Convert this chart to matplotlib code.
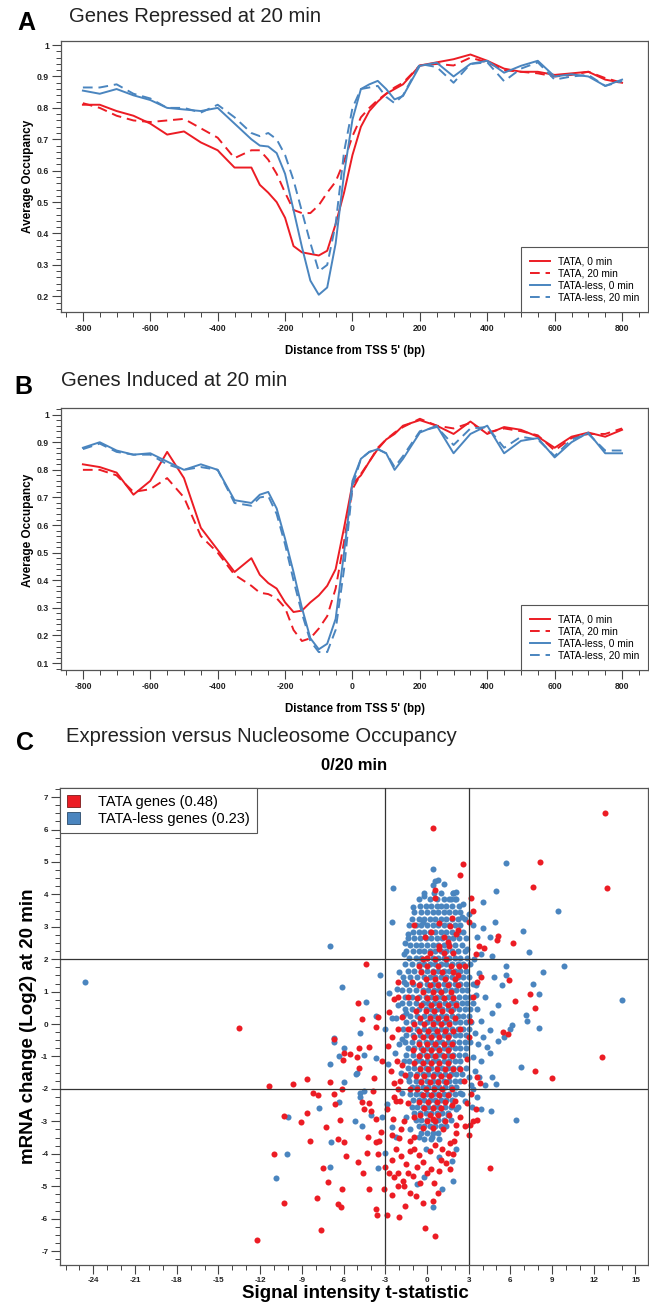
import numpy as np
import matplotlib
matplotlib.use("Agg")
import matplotlib.pyplot as plt
from matplotlib.patches import Patch
from matplotlib.ticker import MultipleLocator, FuncFormatter

plt.rcParams['font.family'] = ['Liberation Sans', 'DejaVu Sans']
plt.rcParams['axes.unicode_minus'] = False

RED = '#EC1C24'
BLUE = '#4A85BF'

# ---- panels A / B : average occupancy around the TSS ----
dist = [-800, -750, -700, -650, -600, -550, -500, -450, -400, -350, -300, -275, -250, -225,
        -200, -175, -150, -125, -100, -75, -50, -25, 0, 25, 50, 75, 100, 125, 150,
        200, 250, 300, 350, 400, 450, 500, 550, 600, 650, 700, 750, 800]

rep_tata_0 = [0.81, 0.81, 0.79, 0.775, 0.75, 0.715, 0.725, 0.69, 0.665, 0.61, 0.61, 0.555, 0.53, 0.50,
              0.45, 0.36, 0.34, 0.335, 0.33, 0.345, 0.43, 0.53, 0.65, 0.74, 0.79, 0.82, 0.845, 0.86, 0.875,
              0.935, 0.945, 0.955, 0.97, 0.95, 0.925, 0.915, 0.915, 0.905, 0.91, 0.915, 0.89, 0.88]
rep_tata_20 = [0.815, 0.80, 0.775, 0.76, 0.755, 0.76, 0.765, 0.735, 0.705, 0.64, 0.665, 0.665, 0.635, 0.59,
               0.53, 0.475, 0.465, 0.465, 0.49, 0.53, 0.565, 0.63, 0.71, 0.77, 0.80, 0.825, 0.845, 0.865, 0.88,
               0.935, 0.94, 0.935, 0.96, 0.945, 0.92, 0.915, 0.91, 0.90, 0.905, 0.915, 0.895, 0.88]
rep_less_0 = [0.855, 0.845, 0.86, 0.84, 0.825, 0.80, 0.795, 0.79, 0.80, 0.75, 0.70, 0.68, 0.677, 0.656,
              0.59, 0.475, 0.357, 0.25, 0.205, 0.228, 0.368, 0.59, 0.763, 0.86, 0.875, 0.886, 0.86, 0.827, 0.838,
              0.934, 0.944, 0.90, 0.94, 0.95, 0.912, 0.934, 0.95, 0.90, 0.907, 0.90, 0.87, 0.89]
rep_less_20 = [0.865, 0.865, 0.875, 0.845, 0.83, 0.80, 0.80, 0.785, 0.81, 0.77, 0.72, 0.71, 0.72, 0.70,
               0.65, 0.57, 0.47, 0.37, 0.28, 0.30, 0.43, 0.66, 0.80, 0.86, 0.865, 0.87, 0.835, 0.815, 0.84,
               0.94, 0.93, 0.88, 0.94, 0.945, 0.885, 0.925, 0.945, 0.89, 0.90, 0.905, 0.87, 0.885]

ind_tata_0 = [0.82, 0.81, 0.79, 0.71, 0.76, 0.865, 0.77, 0.59, 0.51, 0.43, 0.48, 0.42, 0.39, 0.37,
              0.32, 0.285, 0.29, 0.32, 0.345, 0.38, 0.44, 0.59, 0.75, 0.78, 0.83, 0.875, 0.91, 0.93, 0.96,
              0.98, 0.96, 0.93, 0.975, 0.93, 0.955, 0.945, 0.92, 0.88, 0.92, 0.935, 0.92, 0.945]
ind_tata_20 = [0.80, 0.80, 0.78, 0.72, 0.73, 0.77, 0.70, 0.56, 0.50, 0.42, 0.38, 0.355, 0.35, 0.335,
               0.30, 0.22, 0.18, 0.19, 0.225, 0.27, 0.37, 0.54, 0.73, 0.785, 0.83, 0.88, 0.91, 0.935, 0.955,
               0.985, 0.96, 0.95, 0.97, 0.935, 0.95, 0.94, 0.925, 0.87, 0.915, 0.93, 0.93, 0.95]
ind_less_0 = [0.88, 0.90, 0.87, 0.855, 0.86, 0.83, 0.80, 0.82, 0.80, 0.69, 0.68, 0.71, 0.72, 0.66,
              0.55, 0.43, 0.30, 0.19, 0.15, 0.17, 0.26, 0.50, 0.76, 0.84, 0.865, 0.875, 0.86, 0.80, 0.84,
              0.935, 0.96, 0.86, 0.93, 0.96, 0.86, 0.905, 0.915, 0.845, 0.90, 0.935, 0.86, 0.86]
ind_less_20 = [0.875, 0.895, 0.865, 0.855, 0.855, 0.82, 0.80, 0.81, 0.80, 0.68, 0.67, 0.70, 0.705, 0.64,
               0.53, 0.40, 0.28, 0.18, 0.14, 0.14, 0.22, 0.44, 0.74, 0.84, 0.865, 0.875, 0.86, 0.81, 0.85,
               0.94, 0.955, 0.89, 0.95, 0.955, 0.88, 0.92, 0.91, 0.85, 0.91, 0.93, 0.87, 0.87]

profile_labels = ['TATA, 0 min', 'TATA, 20 min', 'TATA-less, 0 min', 'TATA-less, 20 min']

# ---- panel C : expression vs occupancy scatter ----
tata_pts = [
    (12.8, 6.5), (0.4, 6.04), (8.16, 5.0), (2.6, 4.94), (2.35, 4.6), (7.65, 4.22), (12.97, 4.2),
    (0.6, 4.14), (3.2, 3.9), (0.55, 3.9), (-0.9, 3.07), (3.3, 3.5), (3.0, 3.15), (5.1, 2.72),
    (5.05, 2.58), (6.2, 2.5), (4.1, 2.34), (-4.4, 1.84), (5.9, 1.37), (6.3, 0.72), (7.4, 0.92),
    (7.75, 0.5), (5.5, -0.23), (5.85, -0.32), (-13.5, -0.13), (-4.95, 0.64), (-4.7, 0.15),
    (12.6, -1.02), (7.8, -1.45), (9.0, -1.65), (4.55, -4.44),
    (-11.4, -1.9), (-9.65, -1.85), (-8.6, -1.7), (-8.2, -2.14), (-7.85, -2.2), (-7.0, -1.8),
    (-8.6, -2.73), (-9.05, -3.02), (-10.3, -2.83), (-6.7, -2.15), (-6.1, -2.0), (-6.65, -2.45),
    (-6.25, -2.95), (-7.25, -3.17), (-8.4, -3.62), (-11.0, -4.0), (-6.4, -3.55), (-6.0, -3.64),
    (-5.8, -4.06), (-7.45, -4.43), (-7.15, -4.86), (-6.1, -5.1), (-7.9, -5.36), (-10.3, -5.52),
    (-6.4, -5.55), (-6.2, -5.65), (-7.6, -6.34), (-12.2, -6.65),
    (-4.95, -4.25), (-4.6, -4.58), (-4.2, -5.1), (-3.7, -5.7), (-3.6, -5.9), (-2.9, -5.9),
    (-2.0, -5.94), (-2.5, -5.26), (-1.2, -5.2), (-0.15, -6.28), (0.6, -6.55), (-0.3, -5.53),
    (0.45, -5.45), (-4.35, -3.97), (-3.55, -4.0), (-3.7, -3.64), (-4.25, -3.47), (-3.45, -3.6),
    (-4.65, -2.41), (-4.2, -2.42), (-4.5, -2.62), (-4.0, -2.68), (-3.65, -2.93), (-3.3, -3.32),
    (-3.9, -2.07), (-3.8, -1.65), (-4.9, -0.74), (-5.05, -1.02), (-5.55, -0.92), (-6.05, -1.1),
    (-6.0, -0.9), (-4.9, -1.37), (-6.7, -0.47), (-4.2, -0.7), (-3.7, -0.1), (-3.5, 0.23),
    (-2.4, 0.78), (-2.05, 0.82), (-2.75, 0.38), (-2.8, -0.67), (-3.25, -1.15), (-2.6, -1.45),
    (-2.4, -1.82), (-1.95, -1.76), (-2.25, -2.37), (-2.85, -2.62), (-2.45, -2.93), (-1.85, -3.23),
    (-2.55, -3.42), (-2.25, -3.85), (-1.85, -4.07), (-3.0, -4.4), (-2.7, -4.58), (-2.35, -4.73),
    (-2.05, -4.6), (-1.75, -4.83), (-1.35, -4.58), (-1.65, -5.0), (-2.1, -5.0), (-0.75, -4.4),
    (0.0, -4.58), (0.3, -4.46), (0.9, -4.52), (1.35, -4.28), (1.65, -4.46), (1.5, -3.97),
    (-0.6, -4.03), (-0.3, -4.25), (-0.9, -3.85), (1.95, -3.6), (3.0, -3.42), (3.1, -3.1),
    (3.3, -2.99), (3.5, -2.62), (2.85, -2.43), (3.15, -2.15), (3.6, -1.64), (3.8, -1.82),
    (2.1, -3.1), (1.15, -3.23), (0.45, -2.93),
    (-1.0, -4.7), (-0.5, -4.9), (0.5, -4.9), (1.0, -4.2), (-1.5, -4.3), (-2.5, -4.2), (-1.2, -3.9),
    (0.2, -3.9), (1.9, -4.0), (-2.0, -3.5), (0.8, -5.2), (-0.8, -5.3), (-3.1, -5.1), (-1.6, -5.6),
    (3.75, 2.42), (3.5, 2.17), (2.7, 1.8), (2.25, 1.5), (3.6, 1.31), (3.9, 1.44), (3.3, 0.82),
    (3.1, 0.09), (3.0, -0.41), (2.4, -0.16), (2.85, -1.08), (2.4, -1.39), (2.65, -1.76),
    (2.0, -2.37), (1.8, -2.5), (2.4, -2.86), (2.7, -3.15), (3.6, -2.96), (2.1, -3.36),
    (1.65, -3.66), (1.05, -3.85), (0.55, -3.72), (-0.9, -3.48), (-1.2, -3.6), (-1.65, -2.99),
    (-0.9, -2.86), (-1.35, -2.43), (-1.95, -2.37), (-2.1, -2.0), (-2.4, -2.25), (-1.2, -2.0),
    (-1.55, -1.58), (-1.8, -1.27), (-2.15, -1.15), (-2.55, -0.41), (-2.1, -0.16), (-1.35, -0.16),
    (-1.8, 0.21), (-1.35, 0.82), (-2.1, 1.31), (-1.05, 1.31), (-0.55, 1.8), (0.0, 2.05),
    (0.9, 2.3), (1.2, 2.67), (1.65, 3.03), (1.8, 3.28), (1.5, 2.54), (2.1, 2.79), (0.3, 2.85),
    (-0.15, 2.67), (0.9, 3.13), (2.25, 2.91),
]

# dense middle of the TATA cloud, row by row: (y, [x ...])
tata_core = [
    (2.4, [0.9, 1.6]), (2.2, [0.2, 1.2, 1.9]), (2.0, [-0.3, 0.6, 1.4]),
    (1.8, [0.0, 0.8, 1.7, 2.3]), (1.6, [-0.4, 0.4, 1.1, 1.9]), (1.4, [-0.1, 0.6, 1.3, 2.0]),
    (1.2, [-0.6, 0.2, 0.8, 1.5, 2.2]), (1.0, [-0.3, 0.4, 1.0, 1.7]),
    (0.8, [-0.7, 0.0, 0.6, 1.2, 1.9]), (0.6, [-0.4, 0.3, 0.9, 1.5, 2.1]),
    (0.4, [-0.8, -0.1, 0.5, 1.1, 1.7]), (0.2, [-0.5, 0.2, 0.8, 1.4, 2.0]),
    (0.0, [-0.9, -0.2, 0.4, 1.0, 1.6]), (-0.2, [-0.6, 0.1, 0.7, 1.3, 1.9]),
    (-0.4, [-0.9, -0.3, 0.3, 0.9, 1.5]), (-0.6, [-0.6, 0.0, 0.6, 1.2, 1.8]),
    (-0.8, [-1.0, -0.3, 0.3, 0.9, 1.5]), (-1.0, [-0.6, 0.0, 0.6, 1.2, 1.8]),
    (-1.2, [-0.9, -0.3, 0.3, 0.9, 1.5]), (-1.4, [-0.5, 0.1, 0.7, 1.3, 1.9]),
    (-1.6, [-0.8, -0.2, 0.4, 1.0, 1.6]), (-1.8, [-0.4, 0.2, 0.8, 1.4]),
    (-2.0, [-0.7, -0.1, 0.5, 1.1, 1.8]), (-2.2, [-0.3, 0.3, 0.9, 1.5]),
    (-2.4, [-0.6, 0.1, 0.7, 1.3]), (-2.6, [-0.2, 0.4, 1.0]),
    (-2.8, [-0.5, 0.2, 0.8, 1.6]), (-3.0, [0.0, 0.6, 1.3]), (-3.2, [-0.3, 0.4]),
]

less_pts = [
    (-24.6, 1.29), (-6.96, 2.41), (-6.1, 1.14), (-2.47, 4.19), (-2.53, 3.15), (-3.4, 1.52),
    (-2.75, 0.97), (-2.15, 1.09), (-4.4, 0.67), (-3.65, 0.26), (-2.5, 0.18), (-3.0, -0.14),
    (-4.8, -0.28), (-6.7, -0.55), (-6.7, -0.42), (-6.0, -0.75), (-6.3, -0.99), (-7.0, -1.22),
    (-5.0, -1.51), (-5.1, -1.55), (-3.7, -1.06), (-4.5, -0.96), (-2.8, -1.24), (-2.3, -0.9),
    (-6.0, -1.8), (-4.8, -2.13), (-4.5, -2.07), (-6.3, -2.4), (-5.15, -2.99), (-4.7, -3.13),
    (-4.05, -2.8), (-4.8, -2.25), (-7.8, -2.6), (-10.0, -2.87), (-6.9, -3.63), (-6.95, -4.41),
    (-10.1, -4.0), (-10.85, -4.76), (-2.9, -2.47), (-3.2, -2.86), (-3.0, -3.97), (-3.5, -4.44),
    (-2.2, -3.48), (-2.5, -3.17), (-0.75, -4.92), (0.45, -5.63), (-0.25, -4.72), (1.05, -5.08),
    (1.85, -4.83), (1.8, -4.22), (0.9, -4.1), (2.1, -3.85), (-0.1, -3.85), (0.35, -3.48),
    (4.65, -1.64), (4.95, -1.85), (4.6, -2.68), (3.9, -2.62), (3.25, -2.56), (6.4, -2.95),
    (6.75, -1.33), (4.35, -0.71), (4.5, -0.9), (5.1, -0.53), (5.55, -0.41), (5.95, -0.16),
    (4.5, -0.19), (6.15, -0.04), (7.2, 0.09), (7.15, 0.29), (8.05, -0.12), (7.65, 1.25),
    (8.05, 0.92), (8.35, 1.62), (9.85, 1.8), (14.0, 0.73), (9.45, 3.49), (5.65, 4.97),
    (5.0, 4.09), (4.05, 3.75), (4.9, 3.15), (4.0, 2.97), (4.55, 2.67), (6.9, 2.88), (7.35, 2.22),
    (5.65, 1.8), (5.7, 1.5), (4.8, 1.44), (5.4, 1.19), (4.65, 2.11), (3.75, 1.56), (3.9, 2.17),
    (3.55, 1.19), (4.2, 0.82), (5.1, 0.58), (4.65, 0.33), (3.6, 0.45), (3.9, 0.09), (3.45, -0.28),
    (4.05, -0.41), (3.3, -1.02), (3.9, -1.15), (3.45, -1.45), (3.0, -1.64), (2.4, -2.13),
    (2.1, -2.62), (2.7, -2.37), (3.6, -2.25), (3.15, -1.88), (4.2, -1.88), (3.75, -1.64),
    (1.5, -2.8), (3.3, 3.06), (3.6, 2.67), (3.0, 3.4), (2.5, 3.3), (2.0, 3.85), (2.1, 4.07),
    (1.2, 4.32), (0.8, 4.44), (-0.3, 3.15), (-1.35, 2.78), (-1.65, 2.17), (-1.65, 1.31),
    (-2.1, 0.58), (-1.5, 0.33), (-1.8, -0.47), (-1.65, -1.15), (-1.35, -1.64), (-1.8, -2.13),
    (-1.5, -2.86), (-1.2, -3.23), (-0.6, -3.48), (0.45, 4.79), (0.6, 4.4), (0.45, 4.3),
    (-0.25, 3.95), (1.9, 4.05), (1.7, 3.85),
    (-2.0, 1.6), (-2.2, 0.2), (-2.0, -0.6), (-1.9, -1.5), (3.5, 0.9), (3.4, 2.0), (3.7, -0.6),
    (3.3, -2.0), (2.9, 2.3), (2.6, 3.7), (-1.6, 2.5), (-1.0, 3.6),
]

# dense middle of the TATA-less cloud, row by row: (y, [x ...])
less_core = [
    (4.05, [-0.2, 0.5, 1.0, 1.9]),
    (3.85, [-0.6, 0.2, 0.7, 1.2, 1.6, 2.1]),
    (3.65, [-0.5, -0.1, 0.3, 0.7, 1.0, 1.4, 1.8, 2.3]),
    (3.45, [-0.9, -0.4, 0.0, 0.4, 0.8, 1.2, 1.6, 2.0, 2.4]),
    (3.25, [-1.1, -0.6, -0.2, 0.2, 0.6, 1.0, 1.4, 1.8, 2.2, 2.7]),
    (3.05, [-1.3, -0.8, -0.4, 0.0, 0.4, 0.8, 1.2, 1.6, 2.0, 2.4]),
    (2.85, [-1.0, -0.6, -0.2, 0.2, 0.6, 1.0, 1.4, 1.8, 2.2, 2.6]),
    (2.65, [-1.4, -0.9, -0.5, -0.1, 0.3, 0.7, 1.1, 1.5, 1.9, 2.3, 2.8]),
    (2.45, [-1.2, -0.8, -0.4, 0.0, 0.4, 0.8, 1.2, 1.6, 2.0, 2.5]),
    (2.25, [-1.5, -1.0, -0.6, -0.2, 0.2, 0.6, 1.0, 1.4, 1.8, 2.2, 2.7]),
    (2.05, [-1.3, -0.8, -0.4, 0.0, 0.4, 0.8, 1.2, 1.6, 2.0, 2.4, 2.9]),
    (1.85, [-1.6, -1.1, -0.6, -0.2, 0.2, 0.6, 1.0, 1.4, 1.8, 2.2, 2.6, 3.1]),
    (1.65, [-1.4, -0.9, -0.4, 0.0, 0.4, 0.8, 1.2, 1.6, 2.0, 2.4, 2.8]),
    (1.45, [-1.7, -1.2, -0.7, -0.2, 0.2, 0.6, 1.0, 1.4, 1.8, 2.2, 2.6, 3.0]),
    (1.25, [-1.5, -1.0, -0.5, 0.0, 0.4, 0.8, 1.2, 1.6, 2.0, 2.4, 2.8, 3.3]),
    (1.05, [-1.8, -1.3, -0.8, -0.3, 0.1, 0.5, 0.9, 1.3, 1.7, 2.1, 2.5, 2.9]),
    (0.85, [-1.6, -1.1, -0.6, -0.1, 0.3, 0.7, 1.1, 1.5, 1.9, 2.3, 2.7, 3.1]),
    (0.65, [-1.8, -1.3, -0.8, -0.3, 0.1, 0.5, 0.9, 1.3, 1.7, 2.1, 2.5, 2.9, 3.3]),
    (0.45, [-1.6, -1.1, -0.6, -0.1, 0.3, 0.7, 1.1, 1.5, 1.9, 2.3, 2.7, 3.1]),
    (0.25, [-1.7, -1.2, -0.7, -0.2, 0.2, 0.6, 1.0, 1.4, 1.8, 2.2, 2.6, 3.0]),
    (0.05, [-1.5, -1.0, -0.5, 0.0, 0.4, 0.8, 1.2, 1.6, 2.0, 2.4, 2.8, 3.2]),
    (-0.15, [-1.7, -1.2, -0.7, -0.2, 0.2, 0.6, 1.0, 1.4, 1.8, 2.2, 2.6, 3.0]),
    (-0.35, [-1.5, -1.0, -0.5, 0.0, 0.4, 0.8, 1.2, 1.6, 2.0, 2.4, 2.8]),
    (-0.55, [-1.6, -1.1, -0.6, -0.1, 0.3, 0.7, 1.1, 1.5, 1.9, 2.3, 2.7, 3.1]),
    (-0.75, [-1.4, -0.9, -0.4, 0.0, 0.4, 0.8, 1.2, 1.6, 2.0, 2.4, 2.8]),
    (-0.95, [-1.5, -1.0, -0.5, -0.1, 0.3, 0.7, 1.1, 1.5, 1.9, 2.3, 2.7]),
    (-1.15, [-1.3, -0.8, -0.4, 0.0, 0.4, 0.8, 1.2, 1.6, 2.0, 2.4]),
    (-1.35, [-1.4, -0.9, -0.5, -0.1, 0.3, 0.7, 1.1, 1.5, 1.9, 2.3, 2.8]),
    (-1.55, [-1.2, -0.7, -0.3, 0.1, 0.5, 0.9, 1.3, 1.7, 2.1, 2.5]),
    (-1.75, [-1.3, -0.8, -0.4, 0.0, 0.4, 0.8, 1.2, 1.6, 2.0, 2.4]),
    (-1.95, [-1.1, -0.7, -0.3, 0.1, 0.5, 0.9, 1.3, 1.7, 2.1]),
    (-2.15, [-1.2, -0.8, -0.4, 0.0, 0.4, 0.8, 1.2, 1.6, 2.0, 2.5]),
    (-2.35, [-1.0, -0.6, -0.2, 0.2, 0.6, 1.0, 1.4, 1.8]),
    (-2.55, [-1.1, -0.7, -0.3, 0.1, 0.5, 0.9, 1.3, 1.7, 2.2]),
    (-2.75, [-0.9, -0.5, -0.1, 0.3, 0.7, 1.1, 1.5]),
    (-2.95, [-0.8, -0.4, 0.0, 0.4, 0.8, 1.2, 1.7]),
    (-3.15, [-0.6, -0.2, 0.2, 0.6, 1.0, 1.4]),
    (-3.35, [-0.4, 0.0, 0.4, 0.8]),
    (-3.55, [-0.2, 0.3, 0.9]),
]

scatter_labels = ['TATA genes (0.48)', 'TATA-less genes (0.23)']


def unpack(pts, rows):
    xs = [p[0] for p in pts]
    ys = [p[1] for p in pts]
    for yv, row in rows:
        xs += row
        ys += [yv] * len(row)
    return np.array(xs), np.array(ys)


W, H = 649, 1303
fig = plt.figure(figsize=(W / 100, H / 100), dpi=100)


def axes_px(l, t, r, b):
    return fig.add_axes([l / W, 1 - b / H, (r - l) / W, (b - t) / H])


def text_px(x, y, s, **kw):
    fig.text(x / W, 1 - y / H, s, **kw)


def style_axes(ax, labelsize=6.2):
    for sp in ax.spines.values():
        sp.set_color('#555555')
        sp.set_linewidth(0.9)
    ax.tick_params(which='major', direction='out', length=6.5, width=0.8, colors='#444444',
                   labelsize=labelsize, pad=2.0, labelcolor='#222222')
    ax.tick_params(which='minor', direction='out', length=3.3, width=0.7, colors='#444444')
    for lab in ax.get_xticklabels() + ax.get_yticklabels():
        lab.set_fontweight('bold')


def profile_panel(ax, series, ylim):
    styles = [(RED, '-'), (RED, '--'), (BLUE, '-'), (BLUE, '--')]
    handles = []
    for vals, (col, ls), lab in zip(series, styles, profile_labels):
        if ls == '--':
            ln, = ax.plot(dist, vals, color=col, lw=1.4, dashes=(5, 3), label=lab)
        else:
            ln, = ax.plot(dist, vals, color=col, lw=1.4, label=lab)
        handles.append(ln)
    ax.set_xlim(-865, 877)
    ax.set_ylim(*ylim)
    ax.xaxis.set_major_locator(MultipleLocator(200))
    ax.xaxis.set_minor_locator(MultipleLocator(50))
    ax.yaxis.set_major_locator(MultipleLocator(0.1))
    ax.yaxis.set_minor_locator(MultipleLocator(0.02))
    ax.yaxis.set_major_formatter(FuncFormatter(lambda v, p: '1' if abs(v - 1) < 1e-6 else f'{v:.1f}'))
    style_axes(ax)
    leg = ax.legend(handles=handles, loc='lower right', borderaxespad=0, fancybox=False,
                    edgecolor='#555555', framealpha=1, handlelength=2.0, labelspacing=0.22,
                    borderpad=0.9, handletextpad=0.7, fontsize=7.3)
    leg.get_frame().set_linewidth(0.8)


# panel A
axA = axes_px(61, 41, 648, 312)
profile_panel(axA, [rep_tata_0, rep_tata_20, rep_less_0, rep_less_20], (0.15, 1.013))
text_px(26, 23, 'A', fontsize=18, fontweight='bold', ha='center', va='center')
text_px(69, 17, 'Genes Repressed at 20 min', fontsize=14.6, ha='left', va='center', color='#222222')
text_px(28, 176, 'Average Occupancy', fontsize=8.5, fontweight='bold', rotation=90, ha='center', va='center')
text_px(355, 351, "Distance from TSS 5' (bp)", fontsize=8.3, fontweight='bold', ha='center', va='center')

# panel B
axB = axes_px(61, 408, 648, 670)
profile_panel(axB, [ind_tata_0, ind_tata_20, ind_less_0, ind_less_20], (0.075, 1.024))
text_px(23, 387, 'B', fontsize=18, fontweight='bold', ha='center', va='center')
text_px(61, 381, 'Genes Induced at 20 min', fontsize=14.6, ha='left', va='center', color='#222222')
text_px(28, 530, 'Average Occupancy', fontsize=8.5, fontweight='bold', rotation=90, ha='center', va='center')
text_px(355, 709, "Distance from TSS 5' (bp)", fontsize=8.3, fontweight='bold', ha='center', va='center')

# panel C
axC = axes_px(60, 788, 648, 1265)
lx, ly = unpack(less_pts, less_core)
tx, ty = unpack(tata_pts, tata_core)
axC.scatter(lx, ly, s=19, color=BLUE, linewidths=0, zorder=2)
axC.scatter(tx, ty, s=19, color=RED, linewidths=0, zorder=3)
for v in (-3, 3):
    axC.axvline(v, color='#333333', lw=0.9, zorder=4)
for v in (-2, 2):
    axC.axhline(v, color='#333333', lw=0.9, zorder=4)
axC.set_xlim(-26.4, 15.9)
axC.set_ylim(-7.43, 7.28)
axC.xaxis.set_major_locator(MultipleLocator(3))
axC.xaxis.set_minor_locator(MultipleLocator(1))
axC.yaxis.set_major_locator(MultipleLocator(1))
axC.yaxis.set_minor_locator(MultipleLocator(0.25))
style_axes(axC, labelsize=5.8)
legC = axC.legend(handles=[Patch(facecolor=RED, edgecolor='#7a1a1a', lw=0.6),
                           Patch(facecolor=BLUE, edgecolor='#2a4a6a', lw=0.6)],
                  labels=scatter_labels, loc='upper left', borderaxespad=0, fancybox=False,
                  edgecolor='#555555', framealpha=1, fontsize=10.5, handlelength=0.9,
                  handleheight=0.9, handletextpad=1.2, labelspacing=0.15, borderpad=0.5)
legC.get_frame().set_linewidth(0.8)
text_px(25, 743, 'C', fontsize=18, fontweight='bold', ha='center', va='center')
text_px(66, 737, 'Expression versus Nucleosome Occupancy', fontsize=14.6, ha='left', va='center',
        color='#222222')
text_px(354, 765, '0/20 min', fontsize=12, fontweight='bold', ha='center', va='center')
text_px(355, 1294, 'Signal intensity t-statistic', fontsize=13.5, fontweight='bold',
        ha='center', va='center')
text_px(29, 1026, 'mRNA change (Log2) at 20 min', fontsize=13.5, fontweight='bold', rotation=90,
        ha='center', va='center')

fig.savefig('out.png', dpi=100)
